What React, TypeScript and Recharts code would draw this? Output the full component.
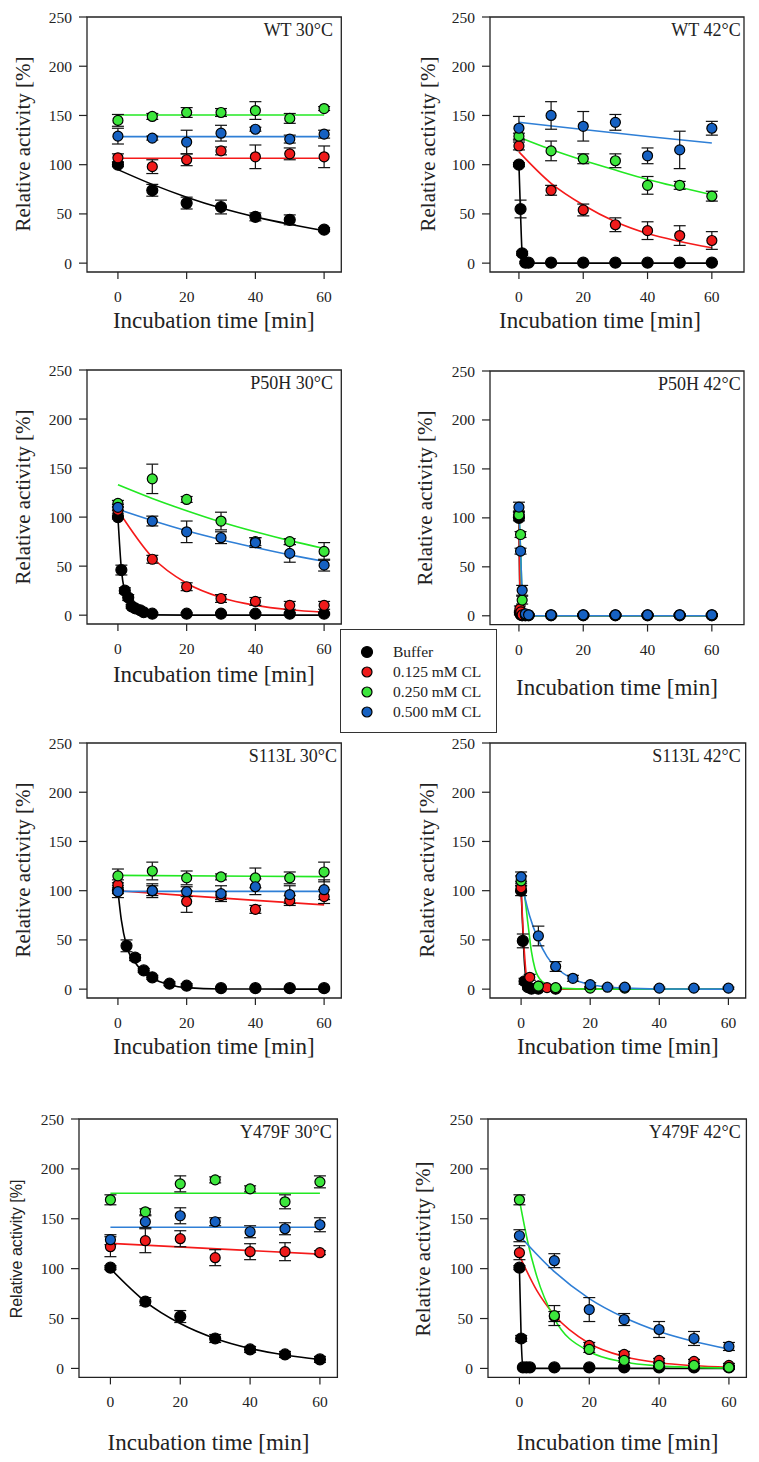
import React from 'react'
import { ComposedChart, Scatter, Line, XAxis, YAxis, ErrorBar, ReferenceArea } from 'recharts'

// [time (min), relative activity (%), error]
type Obs = [number, number, number]
// [time (min), fitted activity (%)]
type Fit = [number, number]

const xTicks = [0, 20, 40, 60]
const yTicks = [0, 50, 100, 150, 200, 250]
const seriesNames = ['Buffer', '0.125 mM CL', '0.250 mM CL', '0.500 mM CL']
const markerColors = ['#000000', '#ef1b1b', '#3ce63c', '#1661c2']
const fitColors = ['#000000', '#f51a1a', '#22e822', '#2f7fd6']
const markerRadius = [5.5, 5, 5, 5]

// WT 30°C
const wt30Buffer: Obs[] = [[0, 100, 2], [10, 74, 6], [20, 61, 6], [30, 57, 7], [40, 47, 4], [50, 44, 5], [60, 34, 2]]
const wt30Cl125: Obs[] = [[0, 107, 4], [10, 98, 7], [20, 105, 6], [30, 114, 4], [40, 108, 12], [50, 111, 6], [60, 108, 11]]
const wt30Cl250: Obs[] = [[0, 145, 6], [10, 149, 3], [20, 153, 5], [30, 153, 4], [40, 155, 9], [50, 147, 5], [60, 157, 2]]
const wt30Cl500: Obs[] = [[0, 129, 8], [10, 127, 2], [20, 123, 12], [30, 132, 8], [40, 136, 2], [50, 126, 4], [60, 131, 4]]
const wt30BufferFit: Fit[] = [[0, 95], [10, 80], [20, 67], [30, 56], [40, 47], [50, 39.5], [60, 33]]
const wt30Cl125Fit: Fit[] = [[0, 106.5], [60, 106.5]]
const wt30Cl250Fit: Fit[] = [[0, 150.5], [60, 150.5]]
const wt30Cl500Fit: Fit[] = [[0, 128.5], [60, 128.5]]

// WT 42°C
const wt42Buffer: Obs[] = [[0, 100, 2], [0.5, 55, 9], [1, 10, 2], [2, 0.5, 1], [3, 0.5, 1], [10, 0.5, 1], [20, 0.5, 1], [30, 0.5, 1], [40, 0.5, 1], [50, 0.5, 1], [60, 0.5, 1]]
const wt42Cl125: Obs[] = [[0, 119, 4], [10, 74, 5], [20, 54, 6], [30, 39, 7], [40, 33, 9], [50, 28, 10], [60, 23, 9]]
const wt42Cl250: Obs[] = [[0, 129, 3], [10, 114, 10], [20, 106, 5], [30, 104, 7], [40, 79, 9], [50, 79, 4], [60, 68, 5]]
const wt42Cl500: Obs[] = [[0, 137, 12], [10, 150, 14], [20, 139, 15], [30, 143, 8], [40, 109, 8], [50, 115, 19], [60, 137, 7]]
const wt42BufferFit: Fit[] = [[0, 100], [0.5, 50], [1, 10], [1.5, 2], [2, 0.5], [3, 0], [60, 0]]
const wt42Cl125Fit: Fit[] = [[0, 113], [10, 81], [20, 59], [30, 42], [40, 30], [50, 22], [60, 15.6]]
const wt42Cl250Fit: Fit[] = [[0, 128], [10, 115.5], [20, 104.5], [30, 94.5], [40, 85], [50, 77], [60, 69.5]]
const wt42Cl500Fit: Fit[] = [[0, 143], [20, 135.7], [40, 128.7], [60, 122]]

// P50H 30°C
const p50h30Buffer: Obs[] = [[0, 100, 2], [1, 46, 5], [2, 25, 3], [3, 18, 3], [4, 9, 2], [5, 7, 2], [6.5, 5, 1], [7.5, 3, 1], [10, 1.5, 1], [20, 1.5, 1], [30, 1.5, 1], [40, 1.5, 1], [50, 1.5, 1], [60, 1.5, 1]]
const p50h30Cl125: Obs[] = [[0, 107, 3], [10, 57, 4], [20, 29, 4], [30, 17, 4], [40, 14, 4], [50, 10, 4], [60, 10, 4]]
const p50h30Cl250: Obs[] = [[0, 114, 3], [10, 139, 15], [20, 118, 3], [30, 96, 9], [40, 75, 4], [50, 75, 3], [60, 65, 9]]
const p50h30Cl500: Obs[] = [[0, 110, 3], [10, 96, 5], [20, 85, 11], [30, 79, 6], [40, 74, 5], [50, 63, 9], [60, 51, 6]]
const p50h30BufferFit: Fit[] = [[0, 100], [1, 47], [2, 23], [3, 11], [4, 5.5], [6, 1.5], [10, 0.3], [20, 0], [60, 0]]
const p50h30Cl125Fit: Fit[] = [[0, 107], [10, 59], [20, 32.5], [30, 18], [40, 10], [50, 5.5], [60, 3]]
const p50h30Cl250Fit: Fit[] = [[0, 133], [10, 119], [20, 106.5], [30, 95], [40, 85], [50, 76], [60, 68]]
const p50h30Cl500Fit: Fit[] = [[0, 108], [10, 96.5], [20, 86], [30, 77], [40, 69], [50, 61.5], [60, 55]]

// P50H 42°C
const p50h42Buffer: Obs[] = [[0, 100, 3], [0.3, 3, 2], [0.6, 1, 1], [1, 0.5, 1], [2, 0.5, 1], [3, 0.5, 1], [10, 0.5, 1], [20, 0.5, 1], [30, 0.5, 1], [40, 0.5, 1], [50, 0.5, 1], [60, 0.5, 1]]
const p50h42Cl125: Obs[] = [[0, 104, 3], [0.3, 7, 3], [0.6, 4, 2], [1, 1, 1], [2, 0.5, 1], [3, 0.5, 1], [10, 0.5, 1], [20, 0.5, 1], [30, 0.5, 1], [40, 0.5, 1], [50, 0.5, 1], [60, 0.5, 1]]
const p50h42Cl250: Obs[] = [[0, 103, 3], [0.5, 83, 3], [1, 16, 4], [2, 1, 1], [3, 0.5, 1], [10, 0.5, 1], [20, 0.5, 1], [30, 0.5, 1], [40, 0.5, 1], [50, 0.5, 1], [60, 0.5, 1]]
const p50h42Cl500: Obs[] = [[0, 111, 5], [0.5, 66, 3], [1, 26, 5], [2, 2, 2], [3, 1, 1], [10, 1, 1], [20, 1, 1], [30, 1, 1], [40, 1, 1], [50, 1, 1], [60, 1, 1]]
const p50h42BufferFit: Fit[] = [[0, 100], [0.2, 40], [0.4, 5], [0.8, 0], [60, 0]]
const p50h42Cl125Fit: Fit[] = [[0, 104], [0.2, 50], [0.4, 12], [0.8, 1], [1.5, 0], [60, 0]]
const p50h42Cl250Fit: Fit[] = [[0, 103], [0.5, 70], [1, 18], [1.5, 4], [2.5, 0], [60, 0]]
const p50h42Cl500Fit: Fit[] = [[0, 111], [0.5, 66], [1, 26], [1.5, 8], [2, 2], [3, 0], [60, 0]]

// S113L 30°C
const s113l30Buffer: Obs[] = [[0, 100, 3], [2.5, 44, 6], [5, 32, 3], [7.5, 19, 2], [10, 12, 2], [15, 5.5, 2], [20, 3.5, 2], [30, 1, 1], [40, 1, 1], [50, 1, 1], [60, 1, 1]]
const s113l30Cl125: Obs[] = [[0, 106, 5], [10, 100, 5], [20, 89, 11], [30, 95, 4], [40, 81, 4], [50, 90, 5], [60, 94, 7]]
const s113l30Cl250: Obs[] = [[0, 115, 7], [10, 120, 9], [20, 113, 7], [30, 114, 3], [40, 113, 10], [50, 113, 6], [60, 119, 10]]
const s113l30Cl500: Obs[] = [[0, 99, 6], [10, 100, 7], [20, 99, 5], [30, 97, 8], [40, 104, 8], [50, 96, 9], [60, 101, 10]]
const s113l30BufferFit: Fit[] = [[0, 100], [1, 70], [2.5, 44], [5, 27], [7.5, 17], [10, 11], [15, 4.5], [20, 1.5], [30, 0.2], [60, 0]]
const s113l30Cl125Fit: Fit[] = [[0, 100], [20, 95], [40, 90.2], [60, 85.6]]
const s113l30Cl250Fit: Fit[] = [[0, 115.5], [60, 114.3]]
const s113l30Cl500Fit: Fit[] = [[0, 99.3], [60, 99.3]]

// S113L 42°C
const s113l42Buffer: Obs[] = [[0, 100, 5], [0.5, 49, 7], [1, 8, 3], [2, 2, 2], [3, 0.5, 1], [5, 0.5, 1], [10, 0.5, 1]]
const s113l42Cl125: Obs[] = [[0, 103, 4], [2.5, 12, 3], [5, 3, 1], [7.5, 1.5, 1], [10, 0.5, 1]]
const s113l42Cl250: Obs[] = [[0, 110, 5], [5, 3, 1], [10, 1.5, 1], [20, 1, 1], [30, 1, 1]]
const s113l42Cl500: Obs[] = [[0, 114, 5], [5, 54, 10], [10, 23, 5], [15, 11, 3], [20, 4.5, 2], [25, 2, 1], [30, 2, 1], [40, 1, 1], [50, 1, 1], [60, 1, 1]]
const s113l42BufferFit: Fit[] = [[0, 100], [0.5, 60], [1, 25], [1.5, 8], [2, 2], [3, 0], [60, 0]]
const s113l42Cl125Fit: Fit[] = [[0, 103], [0.5, 65], [1, 35], [1.6, 12], [2.5, 5], [4, 1.5], [7, 0.3], [10, 0], [60, 0]]
const s113l42Cl250Fit: Fit[] = [[0, 110], [1, 95], [2, 66], [3, 38], [4, 21], [6, 8], [9, 2.7], [12, 0.8], [20, 0], [60, 0]]
const s113l42Cl500Fit: Fit[] = [[0, 110], [2.5, 74], [5, 50], [7.5, 33], [10, 22.5], [15, 10.3], [20, 4.7], [25, 2.1], [30, 1], [40, 0.2], [60, 0]]

// Y479F 30°C
const y479f30Buffer: Obs[] = [[0, 101, 2], [10, 67, 4], [20, 52, 6], [30, 30, 4], [40, 19, 3], [50, 14, 3], [60, 9, 3]]
const y479f30Cl125: Obs[] = [[0, 122, 10], [10, 128, 12], [20, 130, 8], [30, 111, 8], [40, 117, 8], [50, 117, 9], [60, 116, 2]]
const y479f30Cl250: Obs[] = [[0, 169, 5], [10, 157, 3], [20, 185, 8], [30, 189, 3], [40, 180, 3], [50, 167, 7], [60, 187, 6]]
const y479f30Cl500: Obs[] = [[0, 129, 5], [10, 147, 6], [20, 153, 8], [30, 147, 4], [40, 137, 6], [50, 140, 6], [60, 144, 7]]
const y479f30BufferFit: Fit[] = [[0, 100], [10, 67], [20, 45], [30, 30], [40, 20], [50, 13.5], [60, 9]]
const y479f30Cl125Fit: Fit[] = [[0, 125.3], [60, 114.6]]
const y479f30Cl250Fit: Fit[] = [[0, 175.5], [60, 175.5]]
const y479f30Cl500Fit: Fit[] = [[0, 141.5], [60, 141.5]]

// Y479F 42°C
const y479f42Buffer: Obs[] = [[0, 101, 2], [0.5, 30, 3], [1, 1, 1], [2, 1, 1], [3, 1, 1], [10, 1, 1], [20, 1, 1], [30, 1, 1], [40, 1, 1], [50, 1, 1], [60, 1, 1]]
const y479f42Cl125: Obs[] = [[0, 116, 7], [10, 52, 5], [20, 23, 3], [30, 14, 3], [40, 8, 2], [50, 7, 2], [60, 3, 2]]
const y479f42Cl250: Obs[] = [[0, 169, 5], [10, 53, 10], [20, 19, 3], [30, 8, 2], [40, 3, 2], [50, 3, 2], [60, 1, 2]]
const y479f42Cl500: Obs[] = [[0, 133, 6], [10, 108, 7], [20, 59, 12], [30, 49, 6], [40, 39, 8], [50, 30, 7], [60, 22, 4]]
const y479f42BufferFit: Fit[] = [[0, 100], [0.5, 30], [1, 2], [2, 0], [60, 0]]
const y479f42Cl125Fit: Fit[] = [[0, 113], [5, 78], [10, 53.5], [20, 25], [30, 12], [40, 5.6], [50, 2.7], [60, 1.2]]
const y479f42Cl250Fit: Fit[] = [[0, 169], [2.5, 125], [5, 92], [10, 50], [20, 17], [30, 6.5], [40, 2.5], [50, 1], [60, 0.4]]
const y479f42Cl500Fit: Fit[] = [[0, 133], [10, 97], [20, 70], [30, 51], [40, 37], [50, 27], [60, 19.4]]

const SERIF = '"Liberation Serif", "Times New Roman", serif'
const SANS = '"Liberation Sans", Arial, sans-serif'

interface PanelDef {
  title: string
  box: [number, number, number, number] // left, top, right, bottom of plot frame
  xMax: number
  obs: Obs[][]
  fits: Fit[][]
  titleRight: number
  yLabelX: number
  xLabelX?: number
  xLabelY: number
  sansYLabel?: boolean
}

const panels: PanelDef[] = [
  {
    title: 'WT 30°C', box: [86.7, 16.7, 341, 271.7], xMax: 65,
    obs: [wt30Buffer, wt30Cl125, wt30Cl250, wt30Cl500],
    fits: [wt30BufferFit, wt30Cl125Fit, wt30Cl250Fit, wt30Cl500Fit],
    titleRight: 333, yLabelX: 23, xLabelY: 320,
  },
  {
    title: 'WT 42°C', box: [490, 16.7, 744, 271.7], xMax: 70,
    obs: [wt42Buffer, wt42Cl125, wt42Cl250, wt42Cl500],
    fits: [wt42BufferFit, wt42Cl125Fit, wt42Cl250Fit, wt42Cl500Fit],
    titleRight: 740.7, yLabelX: 428, xLabelX: 600, xLabelY: 320,
  },
  {
    title: 'P50H 30°C', box: [86.7, 370.3, 341, 624.3], xMax: 65,
    obs: [p50h30Buffer, p50h30Cl125, p50h30Cl250, p50h30Cl500],
    fits: [p50h30BufferFit, p50h30Cl125Fit, p50h30Cl250Fit, p50h30Cl500Fit],
    titleRight: 333, yLabelX: 23, xLabelY: 674,
  },
  {
    title: 'P50H 42°C', box: [490, 370.7, 744, 624.3], xMax: 70,
    obs: [p50h42Buffer, p50h42Cl125, p50h42Cl250, p50h42Cl500],
    fits: [p50h42BufferFit, p50h42Cl125Fit, p50h42Cl250Fit, p50h42Cl500Fit],
    titleRight: 740.7, yLabelX: 425, xLabelY: 687,
  },
  {
    title: 'S113L 30°C', box: [86.7, 742.7, 341, 997.7], xMax: 65,
    obs: [s113l30Buffer, s113l30Cl125, s113l30Cl250, s113l30Cl500],
    fits: [s113l30BufferFit, s113l30Cl125Fit, s113l30Cl250Fit, s113l30Cl500Fit],
    titleRight: 337, yLabelX: 23, xLabelY: 1046,
  },
  {
    title: 'S113L 42°C', box: [490, 742.7, 745.7, 997.7], xMax: 65,
    obs: [s113l42Buffer, s113l42Cl125, s113l42Cl250, s113l42Cl500],
    fits: [s113l42BufferFit, s113l42Cl125Fit, s113l42Cl250Fit, s113l42Cl500Fit],
    titleRight: 740.7, yLabelX: 427, xLabelY: 1046,
  },
  {
    title: 'Y479F 30°C', box: [79.3, 1119.3, 337.7, 1377.7], xMax: 65,
    obs: [y479f30Buffer, y479f30Cl125, y479f30Cl250, y479f30Cl500],
    fits: [y479f30BufferFit, y479f30Cl125Fit, y479f30Cl250Fit, y479f30Cl500Fit],
    titleRight: 331.7, yLabelX: 17, xLabelY: 1441.5, sansYLabel: true,
  },
  {
    title: 'Y479F 42°C', box: [488.3, 1119.3, 746.7, 1377.7], xMax: 65,
    obs: [y479f42Buffer, y479f42Cl125, y479f42Cl250, y479f42Cl500],
    fits: [y479f42BufferFit, y479f42Cl125Fit, y479f42Cl250Fit, y479f42Cl500Fit],
    titleRight: 740.7, yLabelX: 423, xLabelY: 1441.5,
  },
]

const toObs = (rows: Obs[]) => rows.map(([x, y, e]) => ({ x, y, e }))
const toFit = (rows: Fit[]) => rows.map(([x, y]) => ({ x, y }))

const dotShape = (i: number) => (props: any) => (
  <circle cx={props.cx} cy={props.cy} r={markerRadius[i]} fill={markerColors[i]} stroke="#000" strokeWidth={1.2} />
)

const PAD_L = 60
const PAD_T = 10
const PAD_R = 10
const PAD_B = 50

function Panel({ p }: { p: PanelDef }) {
  const [l, t, r, b] = p.box
  const w = r - l
  const h = b - t
  const tickStyle = { fill: '#222', fontSize: 15.5, fontFamily: SERIF }
  return (
    <>
      <div style={{ position: 'absolute', left: l - PAD_L, top: t - PAD_T, fontFamily: SERIF }}>
        <ComposedChart
          width={w + PAD_L + PAD_R}
          height={h + PAD_T + PAD_B}
          margin={{ top: PAD_T, right: PAD_R, bottom: 0, left: 0 }}
          style={{ fontFamily: SERIF }}
        >
          <XAxis
            type="number"
            dataKey="x"
            domain={[-9, p.xMax]}
            ticks={xTicks}
            allowDataOverflow
            height={PAD_B}
            axisLine={false}
            tickSize={7}
            tickMargin={12}
            tick={tickStyle}
            tickLine={{ stroke: '#222', strokeWidth: 1.2 }}
          />
          <YAxis
            type="number"
            dataKey="y"
            domain={[-9, 250]}
            ticks={yTicks}
            allowDataOverflow
            width={PAD_L}
            axisLine={false}
            tickSize={8}
            tickMargin={7}
            tick={tickStyle}
            tickLine={{ stroke: '#222', strokeWidth: 1.2 }}
          />
          <ReferenceArea x1={-9} x2={p.xMax} y1={-9} y2={250} fill="none" stroke="#222" strokeWidth={1.3} />
          {p.fits.map((f, i) => (
            <Line
              key={`fit-${i}`}
              data={toFit(f)}
              dataKey="y"
              type="monotone"
              stroke={fitColors[i]}
              strokeWidth={1.6}
              dot={false}
              activeDot={false}
              isAnimationActive={false}
            />
          ))}
          {p.obs.map((s, i) => (
            <Scatter key={`obs-${i}`} name={seriesNames[i]} data={toObs(s)} shape={dotShape(i)} isAnimationActive={false}>
              <ErrorBar dataKey="e" direction="y" width={6} stroke="#111" strokeWidth={1.2} />
            </Scatter>
          ))}
        </ComposedChart>
      </div>
      <div
        style={{
          position: 'absolute', left: p.titleRight - 200, width: 200, top: t + 4,
          textAlign: 'right', fontFamily: SERIF, fontSize: 18, lineHeight: '18px', color: '#222', whiteSpace: 'nowrap',
        }}
      >
        {p.title}
      </div>
      <div
        style={{
          position: 'absolute', left: p.yLabelX, top: (t + b) / 2,
          transform: 'translate(-50%, -50%) rotate(-90deg)',
          fontFamily: p.sansYLabel ? SANS : SERIF, fontSize: p.sansYLabel ? 16 : 21,
          lineHeight: 1, color: '#222', whiteSpace: 'nowrap',
        }}
      >
        Relative activity [%]
      </div>
      <div
        style={{
          position: 'absolute', left: p.xLabelX ?? (l + r) / 2, top: p.xLabelY,
          transform: 'translate(-50%, -50%)',
          fontFamily: SERIF, fontSize: 23, lineHeight: 1, color: '#222', whiteSpace: 'nowrap',
        }}
      >
        Incubation time [min]
      </div>
    </>
  )
}

function Legend() {
  return (
    <div
      style={{
        position: 'absolute', left: 340, top: 629, width: 157, height: 104,
        border: '1.5px solid #333', boxSizing: 'border-box', background: '#fff',
      }}
    >
      {seriesNames.map((name, i) => (
        <div key={name} style={{ position: 'absolute', left: 0, top: 12 + i * 20, height: 20, width: 155 }}>
          <svg width={20} height={20} style={{ position: 'absolute', left: 16, top: 0 }}>
            <circle cx={10} cy={10} r={markerRadius[i]} fill={markerColors[i]} stroke="#000" strokeWidth={1.2} />
          </svg>
          <span
            style={{
              position: 'absolute', left: 52, top: 1, fontFamily: SERIF, fontSize: 15.5,
              lineHeight: '18px', color: '#222', whiteSpace: 'nowrap',
            }}
          >
            {name}
          </span>
        </div>
      ))}
    </div>
  )
}

export default function App() {
  return (
    <div style={{ position: 'absolute', left: 0, top: 0, width: 759, height: 1462, background: '#fff' }}>
      {panels.map((p) => (
        <Panel key={p.title} p={p} />
      ))}
      <Legend />
    </div>
  )
}
